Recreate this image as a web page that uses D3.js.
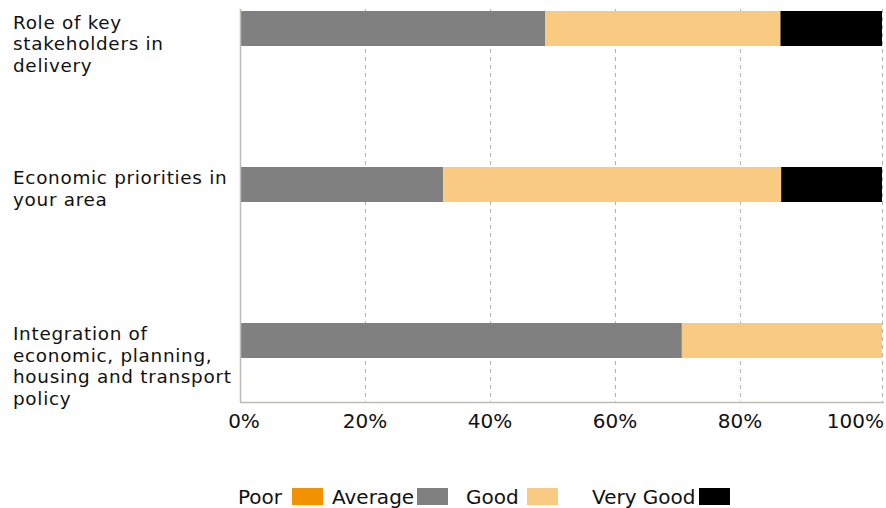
<!DOCTYPE html>
<html>
<head>
<meta charset="utf-8">
<script src="https://cdn.jsdelivr.net/npm/d3@7"></script>
<style>
  html, body { margin: 0; padding: 0; background: #fff; }
  svg { display: block; }
  text { font-family: "DejaVu Sans", sans-serif; fill: #111; }
</style>
</head>
<body>
<svg id="chart" width="886" height="508"></svg>
<script>
// Survey topics (top to bottom), one entry per wrapped line
const categories = [
  ["Role of key", "stakeholders in", "delivery"],
  ["Economic priorities in", "your area"],
  ["Integration of", "economic, planning,", "housing and transport", "policy"]
];
const ratingNames = ["Poor", "Average", "Good", "Very Good"];
// Share of responses (%) for each rating, per topic
const poor     = [0, 0, 0];
const average  = [48.8, 32.5, 70.7];
const good     = [36.9, 53.3, 29.3];
const veryGood = [14.3, 14.2, 0];
const tickValues = [0, 20, 40, 60, 80, 100];
const tickLabels = ["0%", "20%", "40%", "60%", "80%", "100%"];

const colors = ["#F39200", "#808080", "#F9CB82", "#000000"];

const svg = d3.select("#chart");
const keys = categories.map((c, i) => "c" + i);
const rows = keys.map((k, i) => ({
  key: k, Poor: poor[i], Average: average[i], Good: good[i], "Very Good": veryGood[i]
}));

const x = d3.scaleLinear().domain([0, 80, 100]).range([240, 740, 882]);
const y = d3.scaleBand().domain(keys).range([11, 358]).paddingInner(0.7756).paddingOuter(0);

const plotTop = 9, plotBottom = 402;
const axisColor = "#BDBDB2";

// dashed vertical gridlines
svg.append("g").selectAll("line")
  .data(tickValues.filter(v => v > 0))
  .join("line")
  .attr("x1", d => Math.round(x(d)) + 0.5).attr("x2", d => Math.round(x(d)) + 0.5)
  .attr("y1", plotTop).attr("y2", plotBottom)
  .attr("stroke", "#B5B5B0").attr("stroke-width", 1)
  .attr("stroke-dasharray", "4,4");

// stacked bars
const stack = d3.stack().keys(ratingNames)(rows);
svg.append("g").selectAll("g")
  .data(stack)
  .join("g")
  .attr("fill", (d, i) => colors[i])
  .selectAll("rect")
  .data(d => d)
  .join("rect")
  .attr("x", d => x(d[0]))
  .attr("width", d => Math.max(0, x(d[1]) - x(d[0])))
  .attr("y", d => y(d.data.key))
  .attr("height", y.bandwidth());

// axis lines
svg.append("line")
  .attr("x1", 240.5).attr("x2", 240.5).attr("y1", plotTop).attr("y2", plotBottom + 0.5)
  .attr("stroke", axisColor).attr("stroke-width", 1.5);
svg.append("line")
  .attr("x1", 240).attr("x2", 884).attr("y1", plotBottom + 0.5).attr("y2", plotBottom + 0.5)
  .attr("stroke", axisColor).attr("stroke-width", 1.5);

// x tick labels
svg.append("g").selectAll("text")
  .data(tickValues)
  .join("text")
  .attr("x", (d, i) => i === tickValues.length - 1 ? 884 : x(d) + (i === 0 ? 4 : 0))
  .attr("y", 428)
  .attr("text-anchor", (d, i) => i === tickValues.length - 1 ? "end" : "middle")
  .attr("font-size", 20)
  .text((d, i) => tickLabels[i]);

// category labels, one text per wrapped line
const lines = categories.flatMap((lineSet, i) =>
  lineSet.map((t, j) => ({ t, y: y(keys[i]) + 17.5 + j * 21.5 })));
svg.append("g").selectAll("text")
  .data(lines)
  .join("text")
  .attr("x", 13)
  .attr("y", d => d.y)
  .attr("font-size", 18.4)
  .attr("letter-spacing", 0.7)
  .text(d => d.t);

// legend
const legendX = [238, 332, 466, 592];
const legendSwatchX = [292, 417, 527, 699];
const lg = svg.append("g");
ratingNames.forEach((name, i) => {
  lg.append("text").attr("x", legendX[i]).attr("y", 504).attr("font-size", 20).text(name);
  lg.append("rect").attr("x", legendSwatchX[i]).attr("y", 488)
    .attr("width", 31).attr("height", 17).attr("fill", colors[i]);
});
</script>
</body>
</html>
